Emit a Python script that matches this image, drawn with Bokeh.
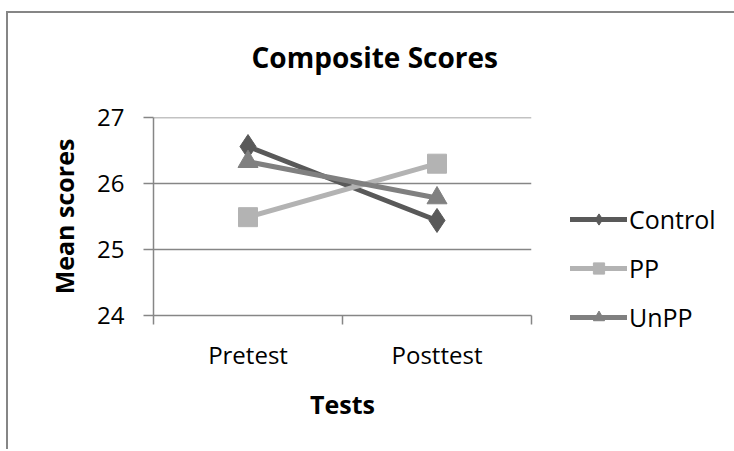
from bokeh.plotting import figure
from bokeh.models import FixedTicker, Legend, LegendItem, Title, ColumnDataSource, Span
from bokeh.embed import file_html
from bokeh.resources import INLINE

tests = ["Pretest", "Posttest"]
control = [26.56, 25.44]
pp = [25.49, 26.30]
unpp = [26.33, 25.78]
y_ticks = [24, 25, 26, 27]

FONT = "Open Sans"
GRAY = "#868686"

xpos = [0.5, 1.5]

p = figure(frame_width=378, frame_height=198, x_range=(0, 2), y_range=(24, 27),
           output_backend="svg", toolbar_location=None,
           min_border_left=145, min_border_right=202, min_border_top=104, min_border_bottom=134)
p.styles = {"border-left": f"2px solid {GRAY}", "border-top": f"2px solid {GRAY}",
            "margin-top": "11px", "margin-left": "6px"}
p.outline_line_color = None
p.background_fill_color = "white"

# title
p.title.text = "Composite Scores"
p.title.text_font = FONT
p.title.text_font_size = "28px"
p.title.text_font_style = "bold"
p.title.text_color = "black"
p.title.align = "left"
p.title.vertical_align = "bottom"
p.title.offset = 98
p.title.standoff = 0

# spacer between title and plot area
p.add_layout(Title(text=" ", text_font_size="1px", standoff=39), "above")

# axes
p.xaxis.ticker = FixedTicker(ticks=xpos, minor_ticks=[0, 1, 2])
p.xaxis.major_label_overrides = {0.5: tests[0], 1.5: tests[1]}
p.xaxis.major_tick_out = 0
p.xaxis.major_tick_in = 0
p.xaxis.minor_tick_out = 9
p.xaxis.minor_tick_in = 0
p.xaxis.minor_tick_line_color = GRAY
p.xaxis.minor_tick_line_width = 1.5
p.xaxis.axis_line_color = GRAY
p.xaxis.axis_line_width = 1.5
p.xaxis.major_label_standoff = 13
p.xaxis.major_label_text_font = FONT
p.xaxis.major_label_text_font_size = "24px"
p.xaxis.major_label_text_color = "black"

p.yaxis.ticker = FixedTicker(ticks=y_ticks, minor_ticks=[])
p.yaxis.major_tick_out = 10
p.yaxis.major_tick_in = 0
p.yaxis.major_tick_line_color = GRAY
p.yaxis.major_tick_line_width = 1.5
p.yaxis.axis_line_color = GRAY
p.yaxis.axis_line_width = 1.5
p.yaxis.major_label_standoff = 19
p.yaxis.major_label_text_font = FONT
p.yaxis.major_label_text_font_size = "24px"
p.yaxis.major_label_text_color = "black"
p.yaxis.axis_label = "Mean scores"
p.yaxis.axis_label_text_font = FONT
p.yaxis.axis_label_text_font_size = "25px"
p.yaxis.axis_label_text_font_style = "bold"
p.yaxis.axis_label_text_color = "black"
p.yaxis.axis_label_standoff = 13

p.xgrid.visible = False
p.ygrid.ticker = FixedTicker(ticks=y_ticks)
p.ygrid.grid_line_color = GRAY
p.ygrid.grid_line_width = 1.5
p.add_layout(Span(location=y_ticks[-1], dimension="width", line_color=GRAY, line_width=1.5))

xt = Title(text="Tests", align="center", offset=0, standoff=23, text_color="black",
           text_font=FONT, text_font_size="25px", text_font_style="bold")
p.add_layout(xt, "below")

series = [
    ("Control", control, "#595959", "diamond", 24),
    ("PP", pp, "#b3b3b3", "square", 19),
    ("UnPP", unpp, "#808080", "triangle", 20),
]
items = []
for name, vals, col, mk, sz in series:
    src = ColumnDataSource(dict(x=xpos, y=vals))
    l = p.line("x", "y", source=src, line_color=col, line_width=5, line_cap="round")
    s = p.scatter("x", "y", source=src, marker=mk, size=sz, fill_color=col, line_color=col)
    items.append(LegendItem(label=name, renderers=[l, s]))

legend = Legend(items=items, location=(39, -19), orientation="vertical",
                glyph_width=57, glyph_height=28, label_height=28, label_standoff=2,
                label_text_font=FONT, label_text_font_size="25px", spacing=15,
                label_text_color="black",
                padding=0, margin=0, border_line_color=None, background_fill_alpha=0)
p.add_layout(legend, "right")

open("out.html", "w").write(file_html(p, INLINE))
